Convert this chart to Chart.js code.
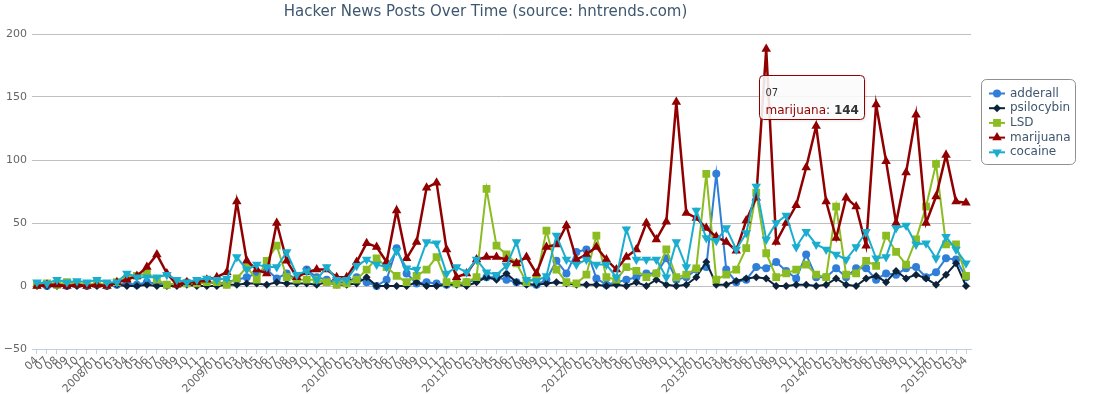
<!DOCTYPE html>
<html>
<head>
<meta charset="utf-8">
<script src="https://cdn.jsdelivr.net/npm/chart.js@4.4.0/dist/chart.umd.min.js"></script>
<style>
  html, body { margin: 0; padding: 0; background: #fff; }
  #wrap { width: 1102px; height: 394px; position: relative; }
</style>
</head>
<body>
<div id="wrap"><canvas id="chart"></canvas></div>
<script>
// months shown on the x axis (2007/04 .. 2015/04, 2007/05, 06 and 11 are missing)
const categories = [
  "04", "07", "08", "09", "10", "12",
  "2008/01", "02", "03", "04", "05", "06", "07", "08", "09", "10", "11", "12",
  "2009/01", "02", "03", "04", "05", "06", "07", "08", "09", "10", "11", "12",
  "2010/01", "02", "03", "04", "05", "06", "07", "08", "09", "10", "11", "12",
  "2011/01", "02", "03", "04", "05", "06", "07", "08", "09", "10", "11", "12",
  "2012/01", "02", "03", "04", "05", "06", "07", "08", "09", "10", "11", "12",
  "2013/01", "02", "03", "04", "05", "06", "07", "08", "09", "10", "11", "12",
  "2014/01", "02", "03", "04", "05", "06", "07", "08", "09", "10", "11", "12",
  "2015/01", "02", "03", "04"
];

const adderall = [
  1, 0, 1, 0, 1, 0, 1, 0, 1, 2,
  1, 3, 2, 1, 2, 3, 2, 3, 2, 3,
  5, 7, 10, 13, 6, 10, 5, 13, 7, 5,
  3, 3, 7, 3, 0, 5, 30, 10, 2, 3,
  2, 1, 2, 3, 5, 7, 7, 5, 3, 2,
  1, 5, 20, 10, 27, 29, 6, 1, 3, 5,
  7, 10, 10, 22, 5, 7, 13, 15, 89, 13,
  3, 5, 15, 14, 19, 12, 6, 25, 7, 7,
  14, 7, 14, 14, 5, 10, 9, 14, 15, 7,
  11, 22, 21, 7
];

const psilocybin = [
  0, 0, 0, 0, 0, 0, 0, 0, 1, 0,
  0, 1, 0, 0, 0, 1, 0, 0, 0, 1,
  1, 2, 2, 1, 3, 2, 2, 2, 1, 3,
  1, 1, 2, 7, 0, 0, 0, 0, 3, 0,
  0, 1, 1, 0, 3, 7, 5, 10, 3, 1,
  1, 2, 3, 2, 1, 1, 1, 0, 1, 0,
  3, 0, 5, 1, 0, 1, 7, 19, 1, 1,
  4, 6, 7, 6, 0, 0, 1, 1, 0, 1,
  6, 1, 0, 6, 8, 3, 12, 6, 9, 6,
  1, 9, 18, 0
];

const lsd = [
  1, 2, 1, 3, 2, 1, 2, 1, 3, 6,
  8, 10, 5, 1, 2, 2, 2, 3, 3, 1,
  6, 15, 5, 20, 32, 7, 5, 5, 5, 3,
  1, 2, 5, 13, 22, 15, 8, 3, 8, 13,
  23, 3, 2, 3, 7, 77, 32, 25, 18, 3,
  6, 44, 13, 3, 2, 9, 40, 7, 5, 15,
  12, 7, 10, 29, 7, 9, 14, 89, 5, 9,
  13, 30, 74, 26, 7, 10, 13, 17, 9, 7,
  63, 9, 10, 20, 16, 40, 27, 17, 37, 63,
  97, 33, 33, 8
];

const marijuana = [
  0, 1, 1, 0, 1, 0, 1, 0, 3, 5,
  8, 15, 25, 10, 1, 3, 3, 5, 7, 11,
  67, 20, 13, 10, 50, 20, 7, 11, 13, 13,
  7, 7, 19, 34, 31, 19, 60, 22, 35, 78,
  82, 29, 7, 10, 21, 23, 23, 21, 18, 23,
  10, 31, 33, 48, 21, 25, 31, 21, 13, 23,
  29, 50, 37, 51, 146, 58, 54, 46, 39, 35,
  28, 52, 70, 188, 35, 50, 64, 94, 127, 67,
  38, 70, 63, 32, 144, 99, 50, 90, 136, 50,
  71, 104, 67, 66
];

const cocaine = [
  3, 2, 5, 3, 4, 3, 5, 3, 3, 10,
  7, 7, 7, 9, 5, 3, 5, 6, 5, 6,
  23, 13, 17, 15, 15, 27, 9, 12, 5, 15,
  5, 5, 16, 21, 17, 15, 28, 14, 13, 35,
  34, 10, 15, 11, 21, 11, 9, 16, 35, 5,
  4, 8, 40, 21, 17, 21, 17, 17, 7, 45,
  21, 21, 21, 7, 35, 15, 60, 38, 36, 46,
  29, 42, 79, 37, 50, 56, 31, 43, 33, 29,
  25, 21, 31, 43, 22, 23, 46, 48, 33, 34,
  22, 39, 29, 18
];

// the hovered point shown in the screenshot
const tipSeries = 3;
const tipIndex = 84;
const tipTitle = "07";

const FONT = "'DejaVu Sans', 'Lucida Grande', sans-serif";

function series(label, data, color, style, radius, order, extra) {
  return Object.assign({
    label: label,
    data: data,
    borderColor: color,
    backgroundColor: color,
    pointBackgroundColor: color,
    borderWidth: 2,
    pointStyle: style,
    pointRadius: radius,
    pointBorderWidth: 0,
    pointHoverRadius: radius,
    tension: 0,
    order: order
  }, extra || {});
}

// legend box with line + marker, like the original
const boxLegend = {
  id: "boxLegend",
  afterDraw(chart) {
    const ctx = chart.ctx;
    const x0 = 981.5, y0 = 79.5, w = 94, h = 85;
    ctx.save();
    ctx.beginPath();
    ctx.roundRect(x0, y0, w, h, 5);
    ctx.strokeStyle = "#909090";
    ctx.lineWidth = 1;
    ctx.stroke();
    ctx.font = "12px " + FONT;
    ctx.textBaseline = "middle";
    chart.data.datasets.forEach((ds, i) => {
      const cy = 93.5 + i * 14.7;
      ctx.beginPath();
      ctx.moveTo(989, cy);
      ctx.lineTo(1005, cy);
      ctx.strokeStyle = ds.borderColor;
      ctx.lineWidth = 2;
      ctx.stroke();
      ctx.fillStyle = ds.borderColor;
      Chart.helpers.drawPoint(ctx, {
        pointStyle: ds.pointStyle,
        radius: ds.pointRadius,
        rotation: ds.pointRotation || 0,
        borderWidth: 0
      }, 997, cy);
      ctx.fillStyle = "#3E576F";
      ctx.fillText(ds.label, 1010, cy);
    });
    ctx.restore();
  }
};

// tooltip pinned on the marijuana point
const pinnedTip = {
  id: "pinnedTip",
  afterDraw(chart) {
    const ds = chart.data.datasets[tipSeries];
    const pt = chart.getDatasetMeta(tipSeries).data[tipIndex];
    const value = ds.data[tipIndex];
    const ctx = chart.ctx;
    ctx.save();
    ctx.font = "12px " + FONT;
    const nameTxt = ds.label + ": ";
    const nameW = ctx.measureText(nameTxt).width;
    ctx.font = "bold 12px " + FONT;
    const valW = ctx.measureText(String(value)).width;
    const w = Math.round(nameW + valW + 12);
    const h = 44;
    const right = Math.round(pt.x) - 11.5;
    const left = right - w;
    const top = Math.round(pt.y) - 29.5;
    ctx.shadowColor = "rgba(0,0,0,0.15)";
    ctx.shadowOffsetX = 1;
    ctx.shadowOffsetY = 1;
    ctx.shadowBlur = 3;
    ctx.beginPath();
    ctx.roundRect(left, top, w, h, 4);
    ctx.fillStyle = "rgba(255,255,255,0.88)";
    ctx.fill();
    ctx.shadowColor = "transparent";
    ctx.strokeStyle = ds.borderColor;
    ctx.lineWidth = 1;
    ctx.stroke();
    ctx.textBaseline = "alphabetic";
    ctx.font = "10px " + FONT;
    ctx.fillStyle = "#333";
    ctx.fillText(tipTitle, left + 6, top + 20);
    ctx.font = "12px " + FONT;
    ctx.fillStyle = ds.borderColor;
    ctx.fillText(ds.label, left + 6, top + 38);
    ctx.fillStyle = "#333";
    ctx.fillText(": ", left + 6 + ctx.measureText(ds.label).width, top + 38);
    ctx.font = "bold 12px " + FONT;
    ctx.fillText(String(value), left + 6 + nameW, top + 38);
    ctx.restore();
  }
};

new Chart(document.getElementById("chart"), {
  type: "line",
  data: {
    labels: categories,
    datasets: [
      series("adderall", adderall, "#2f7ed8", "circle", 4, 4),
      series("psilocybin", psilocybin, "#0d233a", "rectRot", 4, 3),
      series("LSD", lsd, "#8bbc21", "rect", 5.5, 2),
      series("marijuana", marijuana, "#910000", "triangle", 5.5, 1, { borderWidth: 2.5 }),
      series("cocaine", cocaine, "#1aadce", "triangle", 5.5, 0, { pointRotation: 180 })
    ]
  },
  options: {
    responsive: true,
    maintainAspectRatio: false,
    animation: false,
    devicePixelRatio: 1,
    events: [],
    layout: { padding: { left: 0, right: 131, top: 0, bottom: 0 } },
    plugins: {
      legend: { display: false },
      tooltip: { enabled: false },
      title: {
        display: true,
        text: "Hacker News Posts Over Time (source: hntrends.com)",
        color: "#3E576F",
        font: { size: 15, family: FONT, weight: "normal" },
        padding: { top: 3.5, bottom: 12.5 }
      }
    },
    scales: {
      x: {
        offset: true,
        grid: {
          offset: false,
          drawOnChartArea: false,
          drawTicks: true,
          tickLength: 5,
          color: "#C0D0E0"
        },
        border: { color: "#C0D0E0", width: 1 },
        ticks: {
          autoSkip: false,
          minRotation: 45,
          maxRotation: 45,
          padding: 0,
          color: "#666",
          font: { size: 11, family: FONT }
        },
        afterFit(scale) { scale.height = 45; }
      },
      y: {
        min: -50,
        max: 200,
        grid: { color: "#C0C0C0", drawTicks: false },
        border: { display: false },
        ticks: {
          stepSize: 50,
          padding: 5,
          color: "#666",
          font: { size: 11, family: FONT },
          callback: (v) => String(v).replace("-", "\u2212")
        },
        afterFit(scale) { scale.width = 32; }
      }
    }
  },
  plugins: [boxLegend, pinnedTip]
});
</script>
</body>
</html>
